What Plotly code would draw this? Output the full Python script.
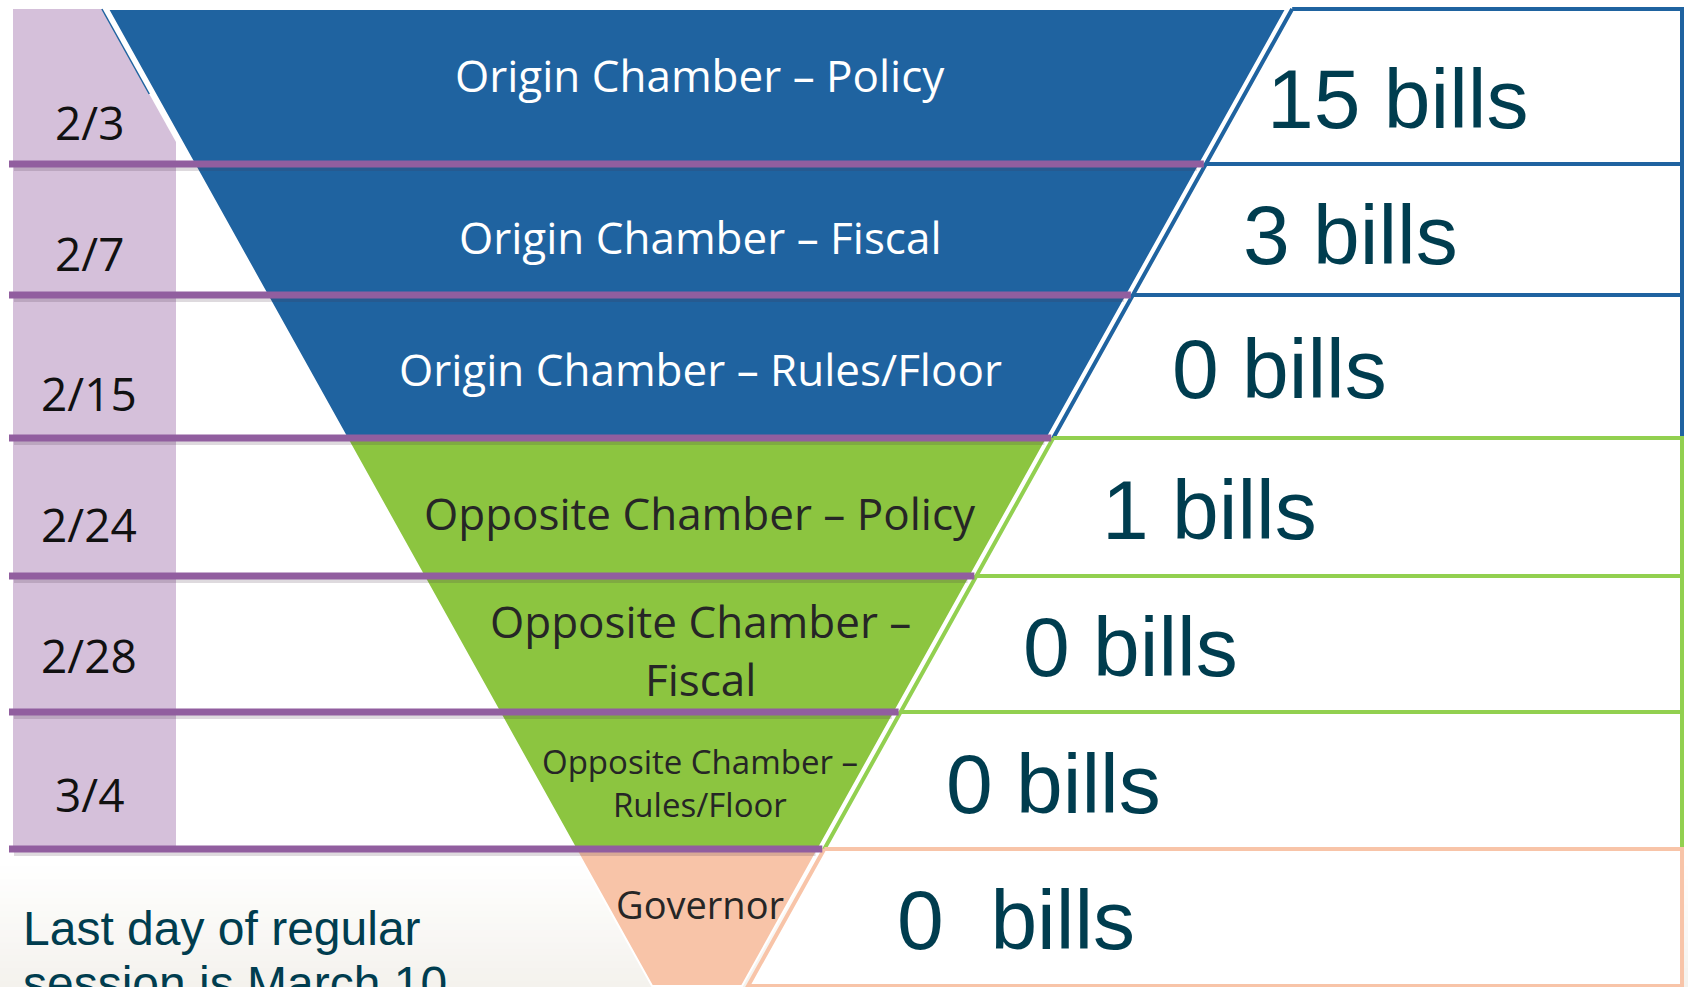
import plotly.graph_objects as go

# ---------------- data ----------------
stages = ["Origin Chamber – Policy", "Origin Chamber – Fiscal", "Origin Chamber – Rules/Floor",
          "Opposite Chamber – Policy", "Opposite Chamber –|Fiscal",
          "Opposite Chamber –|Rules/Floor", "Governor"]
groups = ["origin", "origin", "origin", "opposite", "opposite", "opposite", "governor"]
deadlines = ["2/3", "2/7", "2/15", "2/24", "2/28", "3/4"]
bills = [15, 3, 0, 1, 0, 0, 0]
note_lines = ["Last day of regular", "session is March 10"]

# ---------------- layout constants ----------------
W, H = 1688, 987
ROW_EDGES = [9, 164, 295, 438, 576, 712, 849, 986]
FUN_TOP_Y, FUN_L0, FUN_R0, SLOPE = 8.6, 107.7, 1286.4, 0.557
CENTER = (FUN_L0 + FUN_R0) / 2
BOX_RIGHT = 1682
BOX_GAP = 6

FILL = {"origin": "#1F63A0", "opposite": "#8CC540", "governor": "#F8C4A8"}
BORDER = {"origin": "#1F63A0", "opposite": "#92D050", "governor": "#F8C4A8"}
LABEL_COLOR = {"origin": "#FFFFFF", "opposite": "#262626", "governor": "#262626"}
LAVENDER = "#D5C0DA"
PURPLE = "#915E9F"
TEAL = "#003D4F"

LABEL_SIZE = [44, 44, 44, 44, 44, 33, 38]
LABEL_Y = [75, 237, 369, 513, 650, 783, 904]
DATE_Y = [122, 253, 393, 524, 655, 794]
DATE_X = 89
BILL_X = [1265, 1241, 1170, 1100, 1021, 944, 895]
BILL_Y = [99, 235, 369, 510, 647, 784, 920]
NOTE_X, NOTE_Y, NOTE_SPACING = 21, 928, 55


def fl(y):
    return FUN_L0 + SLOPE * (y - FUN_TOP_Y)


def fr(y):
    return FUN_R0 - SLOPE * (y - FUN_TOP_Y)


fig = go.Figure()


def poly(xs, ys, fill, line_color=None, line_width=0):
    fig.add_trace(go.Scatter(
        x=xs + [xs[0]], y=ys + [ys[0]], mode="lines", fill="toself",
        fillcolor=fill,
        line=dict(color=line_color or fill, width=line_width),
        hoverinfo="skip", showlegend=False))


def seg(x0, x1, y, color, width):
    fig.add_trace(go.Scatter(
        x=[x0, x1], y=[y, y], mode="lines",
        line=dict(color=color, width=width),
        hoverinfo="skip", showlegend=False))


# subtle background gradient at the bottom
shapes = []
n_strips = 20
g0 = 860
for k in range(n_strips):
    t = k / (n_strips - 1)
    r = round(255 - (255 - 244) * t)
    g = round(255 - (255 - 242) * t)
    b = round(255 - (255 - 237) * t)
    y0 = g0 + (H - g0) * k / n_strips
    y1 = g0 + (H - g0) * (k + 1) / n_strips + 1
    shapes.append(dict(type="rect", xref="x", yref="y", x0=0, x1=W, y0=y0, y1=y1,
                       fillcolor=f"rgb({r},{g},{b})", line=dict(width=0), layer="below"))

# lavender date column
lav_right = 176
lav_top = ROW_EDGES[0]
lav_diag_x0 = fl(lav_top) - 6
lav_diag_y1 = lav_top + (lav_right - lav_diag_x0) / SLOPE
poly([13, lav_diag_x0, lav_right, lav_right, 13],
     [lav_top, lav_top, lav_diag_y1, ROW_EDGES[6], ROW_EDGES[6]], LAVENDER)
fig.add_trace(go.Scatter(x=[lav_diag_x0, lav_diag_x0 + SLOPE * 85], y=[lav_top, lav_top + 85],
                         mode="lines", line=dict(color=FILL["origin"], width=1.5),
                         hoverinfo="skip", showlegend=False))

# right boxes
for i, grp in enumerate(groups):
    yt, yb = ROW_EDGES[i], ROW_EDGES[i + 1]
    xs = [fr(yt) + BOX_GAP, BOX_RIGHT, BOX_RIGHT, fr(yb) + BOX_GAP]
    ys = [yt, yt, yb, yb]
    poly(xs, ys, "#FFFFFF", BORDER[grp], 4)

# funnel segments
for i, grp in enumerate(groups):
    yt, yb = ROW_EDGES[i], ROW_EDGES[i + 1]
    poly([fl(yt), fr(yt), fr(yb), fl(yb)], [yt, yt, yb, yb], FILL[grp], "#FFFFFF", 2)

# purple deadline lines with soft shadow
for y in ROW_EDGES[1:7]:
    seg(14, fr(y + 5), y + 5, "rgba(70,50,70,0.18)", 4)
    seg(9, fr(y) + 4, y, PURPLE, 7)

annotations = []


def text(x, y, s, size, color, family, xanchor="center"):
    annotations.append(dict(x=x, y=y, xref="x", yref="y", text=s, showarrow=False,
                            xanchor=xanchor, yanchor="middle",
                            font=dict(size=size, color=color, family=family)))


# dates
for i, d in enumerate(deadlines):
    text(DATE_X, DATE_Y[i], d, 46, "#111111", "Open Sans")

# stage labels
for i, (s, grp) in enumerate(zip(stages, groups)):
    lines = s.split("|")
    size = LABEL_SIZE[i]
    spacing = size * 1.33
    for j, ln in enumerate(lines):
        y = LABEL_Y[i] + (j - (len(lines) - 1) / 2) * spacing
        text(CENTER + 3, y, ln, size, LABEL_COLOR[grp], "Open Sans")

# bill counts
for i, n in enumerate(bills):
    label = f"{n} bills" if groups[i] != "governor" else f"{n}\u00a0 bills"
    text(BILL_X[i], BILL_Y[i], label, 84, TEAL, "Liberation Sans, Arial", xanchor="left")

# note (second line runs off the bottom edge, as in the original slide)
for j, ln in enumerate(note_lines):
    text(NOTE_X, NOTE_Y + j * NOTE_SPACING, ln, 48, TEAL, "Liberation Sans, Arial", xanchor="left")

fig.update_layout(
    width=W, height=H,
    margin=dict(l=0, r=0, t=0, b=0),
    paper_bgcolor="#FFFFFF", plot_bgcolor="#FFFFFF",
    xaxis=dict(range=[0, W], visible=False, fixedrange=True),
    yaxis=dict(range=[H, 0], visible=False, fixedrange=True),
    shapes=shapes,
    annotations=annotations,
    showlegend=False,
)

# remove the default page margin so the figure fills the window exactly
fig.write_html(
    "out.html",
    config={"displayModeBar": False},
    post_script="document.body.style.margin='0';document.body.style.overflow='hidden';",
)
